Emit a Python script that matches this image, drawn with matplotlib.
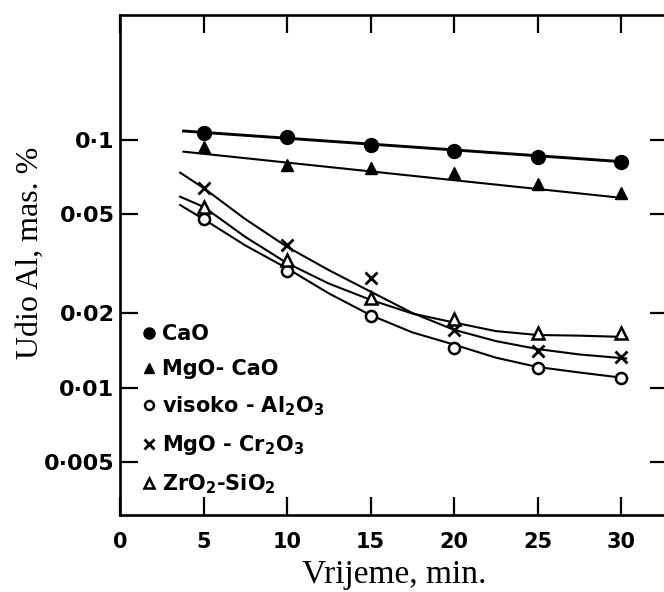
import matplotlib
matplotlib.use('Agg')
import matplotlib.pyplot as plt

plt.rcParams['mathtext.fontset'] = 'dejavusans'

# vrijeme (min) mjerenja
t = [5, 10, 15, 20, 25, 30]

# izmjerene tocke, udio Al (mas. %)
cao = [0.1064, 0.1025, 0.0954, 0.0903, 0.0851, 0.0817]
mgo_cao = [0.094, 0.0793, 0.0768, 0.0733, 0.0664, 0.0612]
al2o3 = [0.0479, 0.0296, 0.0195, 0.0144, 0.0120, 0.0109]
mgo_cr2o3 = [0.0638, 0.0377, 0.0276, 0.0171, 0.0140, 0.0133]
zro2_sio2 = [0.0538, 0.0327, 0.0229, 0.0190, 0.0166, 0.0166]

# ravni pravci (ocitani krajevi)
t_line = [3.8, 30.3]
cao_line = [0.1087, 0.0815]
mgo_cao_line = [0.0897, 0.0581]

# krivulje, ocitane s grafa
t_curve = [3.6, 5, 7.5, 10, 12.5, 15, 17.5, 20, 22.5, 25, 27.5, 30.3]
al2o3_curve = [0.0546, 0.0479, 0.0375, 0.0303, 0.0240, 0.0196, 0.0167, 0.0149, 0.0132, 0.0121, 0.0115, 0.0109]
mgo_cr2o3_curve = [0.0738, 0.0640, 0.0479, 0.0370, 0.0298, 0.0244, 0.0200, 0.0171, 0.0154, 0.0143, 0.0136, 0.0131]
zro2_sio2_curve = [0.0590, 0.0537, 0.0406, 0.0318, 0.0263, 0.0226, 0.0199, 0.0183, 0.0169, 0.0163, 0.0162, 0.0160]

yticks = [0.005, 0.01, 0.02, 0.05, 0.1]
ytick_labels = ['0·005', '0·01', '0·02', '0·05', '0·1']
xticks = [0, 5, 10, 15, 20, 25, 30]

fig = plt.figure(figsize=(6.64, 5.92), dpi=100)
ax = fig.add_axes([120 / 664, 77 / 592, 548 / 664, 500 / 592])

ax.set_yscale('log')
ax.set_xlim(0, 32.8)
ax.set_ylim(0.003055, 0.3198)

k = 'black'
ax.plot(t_line, cao_line, color=k, lw=2.1)
ax.plot(t_line, mgo_cao_line, color=k, lw=1.5)
ax.plot(t_curve, al2o3_curve, color=k, lw=1.5)
ax.plot(t_curve, mgo_cr2o3_curve, color=k, lw=1.5)
ax.plot(t_curve, zro2_sio2_curve, color=k, lw=1.5)

ax.plot(t, cao, 'o', color=k, ms=10, label='CaO')
ax.plot(t, mgo_cao, '^', color=k, ms=9, label='MgO- CaO')
ax.plot(t, al2o3, 'o', mfc='white', mec=k, mew=1.8, ms=8,
        label=r'visoko - Al$_\mathbf{2}$O$_\mathbf{3}$')
ax.plot(t, mgo_cr2o3, 'x', color=k, mew=2, ms=9,
        label=r'MgO - Cr$_\mathbf{2}$O$_\mathbf{3}$')
ax.plot(t, zro2_sio2, '^', mfc='white', mec=k, mew=1.8, ms=9,
        label=r'ZrO$_\mathbf{2}$-SiO$_\mathbf{2}$')

ax.set_yticks(yticks, ytick_labels)
ax.minorticks_off()
ax.set_xticks(xticks)
ax.tick_params(direction='in', length=13, width=1.6, top=True, right=True, pad=4)
ax.tick_params(axis='x', pad=12, labelsize=15)
ax.tick_params(axis='y', labelsize=16)
for lab in ax.get_xticklabels() + ax.get_yticklabels():
    lab.set_fontweight('bold')
for s in ax.spines.values():
    s.set_linewidth(1.9)

ax.set_xlabel('Vrijeme, min.', family='Liberation Serif', fontsize=24, labelpad=6)
ax.set_ylabel('Udio Al, mas. %', family='Liberation Serif', fontsize=23)
ax.yaxis.set_label_coords(-0.137, 0.524)

leg = ax.legend(loc='lower left', bbox_to_anchor=(0.03, 0.022), frameon=False,
                handlelength=0.4, handletextpad=0.45, labelspacing=0.72,
                borderaxespad=0.0, markerscale=0.8,
                prop={'weight': 'bold', 'size': 15})

fig.savefig('out.png', dpi=100)
